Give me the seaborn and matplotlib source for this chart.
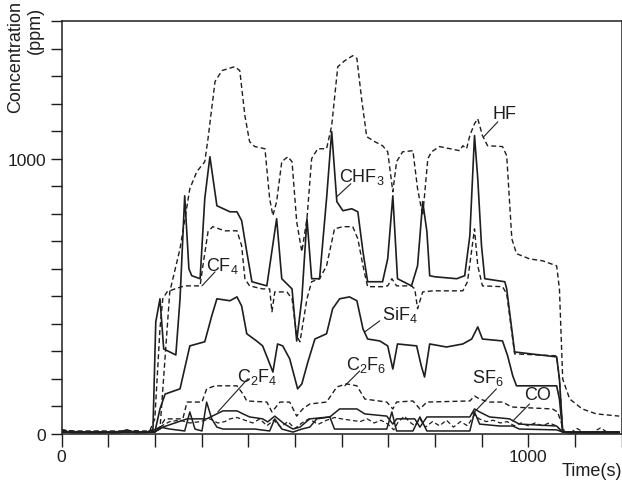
import matplotlib
matplotlib.use("Agg")
import matplotlib.pyplot as plt
import seaborn as sns
import numpy as np

# ---------------- data (time in s, concentration in ppm) ----------------
HF_t = [0, 20, 40, 60, 80, 100, 120, 140, 160, 180, 200, 211, 232, 254, 275, 290, 307, 314, 329, 344,
        371, 382, 393, 403, 414, 436, 446, 453, 461, 472, 485, 494, 504, 515, 526, 536, 549, 568, 579, 592,
        607, 624, 633, 643, 654, 671, 688, 699, 710, 718, 731, 753, 763, 774, 785, 793, 810, 853, 860, 868,
        875, 885, 892, 902, 913, 945, 954, 965, 975, 1003, 1031, 1061, 1067, 1074, 1089, 1116, 1146, 1195]
HF_v = [15, 10, 8, 5, 10, 6, 4, 8, 12, 5, 10, 18, 516, 673, 891, 953, 989, 1073, 1280, 1320,
        1334, 1320, 1156, 1062, 1044, 1036, 855, 793, 844, 989, 1007, 989, 771, 662, 782, 1000, 1036, 1036, 1120, 1334,
        1356, 1374, 1364, 1218, 1080, 1062, 1047, 1025, 880, 989, 1025, 1029, 891, 793, 1000, 1025, 1044, 1029, 1047, 1036,
        1084, 1127, 1145, 1084, 1047, 1044, 1011, 709, 655, 636, 629, 611, 527, 200, 127, 91, 73, 65]

CHF3_t = [0, 189, 196, 202, 211, 219, 232, 245, 254, 264, 273, 279, 297, 307, 318, 333, 361, 376, 386, 397,
          408, 440, 461, 472, 494, 504, 515, 526, 536, 553, 568, 579, 590, 603, 622, 635, 646, 656, 688, 699,
          710, 720, 750, 763, 774, 783, 789, 800, 847, 864, 875, 885, 892, 900, 907, 950, 954, 971, 1061, 1067,
          1074, 1089, 1195]
CHF3_v = [7, 7, 18, 407, 491, 309, 298, 287, 491, 865, 600, 575, 564, 855, 1007, 829, 807, 807, 775, 662,
          553, 538, 782, 564, 527, 338, 491, 782, 564, 564, 855, 1098, 844, 811, 818, 807, 662, 553, 553, 636,
          865, 564, 538, 611, 844, 735, 575, 571, 564, 575, 720, 1084, 927, 684, 564, 553, 527, 298, 280, 200,
          7, 4, 4]

CF4_t = [0, 189, 200, 211, 217, 226, 243, 264, 297, 303, 314, 324, 350, 376, 386, 393, 403, 431, 446, 451,
         457, 483, 494, 504, 511, 519, 526, 536, 553, 568, 585, 603, 624, 635, 646, 656, 688, 699, 708, 718,
         750, 757, 763, 774, 796, 860, 870, 885, 892, 902, 945, 954, 971, 1061, 1067, 1074, 1099, 1195]
CF4_v = [11, 11, 55, 382, 491, 516, 527, 538, 538, 611, 735, 753, 738, 738, 684, 564, 538, 527, 527, 444,
         516, 516, 491, 356, 335, 418, 491, 553, 564, 611, 745, 753, 753, 709, 611, 535, 535, 538, 564, 538,
         538, 527, 455, 516, 520, 520, 553, 745, 611, 538, 535, 509, 291, 284, 200, 7, 7, 7]

SiF4_t = [0, 20, 120, 140, 160, 200, 211, 222, 254, 275, 307, 322, 333, 361, 376, 386, 397, 418, 431, 442,
          453, 463, 474, 489, 506, 515, 528, 543, 568, 581, 596, 617, 633, 646, 656, 682, 699, 710, 720, 761,
          771, 778, 789, 825, 860, 879, 892, 902, 945, 956, 967, 975, 1061, 1067, 1074, 1195]
SiF4_v = [15, 5, 5, 15, 5, 7, 91, 145, 164, 320, 335, 429, 491, 484, 498, 465, 364, 338, 320, 273,
          225, 327, 320, 273, 164, 182, 262, 345, 364, 455, 491, 498, 484, 382, 345, 338, 320, 236, 327, 320,
          247, 207, 327, 316, 327, 345, 389, 345, 338, 284, 211, 175, 175, 127, 7, 7]

C2F6_t = [0, 200, 211, 222, 260, 269, 301, 311, 329, 376, 389, 397, 440, 451, 468, 489, 504, 517, 532, 568,
          590, 611, 633, 650, 697, 710, 718, 753, 768, 783, 875, 885, 896, 917, 945, 965, 1052, 1063, 1078, 1195]
C2F6_v = [7, 7, 25, 55, 55, 116, 116, 164, 175, 175, 145, 120, 116, 80, 116, 116, 65, 91, 109, 116,
          171, 182, 175, 127, 116, 91, 116, 120, 91, 116, 120, 138, 127, 116, 116, 98, 91, 80, 7, 7]

C2F4_t = [0, 200, 217, 269, 311, 346, 376, 389, 403, 431, 442, 457, 478, 496, 511, 532, 575, 596, 633, 650,
          697, 710, 718, 757, 768, 783, 875, 885, 896, 917, 960, 981, 1061, 1074, 1195]
C2F4_v = [7, 7, 25, 55, 55, 84, 84, 73, 62, 55, 44, 65, 36, 18, 25, 55, 62, 91, 91, 73,
          65, 36, 55, 55, 25, 62, 62, 91, 80, 62, 55, 36, 29, 7, 7]

CO_t = [0, 189, 211, 232, 264, 275, 286, 301, 311, 322, 333, 346, 414, 446, 457, 472, 496, 515, 532, 547,
        575, 585, 633, 697, 708, 718, 753, 768, 783, 875, 885, 896, 939, 967, 981, 1061, 1074, 1195]
CO_v = [7, 7, 25, 18, 11, 80, 18, 11, 116, 55, 25, 18, 18, 11, 55, 18, 7, 18, 25, 55,
        62, 18, 18, 18, 80, 11, 11, 62, 11, 11, 80, 36, 29, 29, 18, 15, 7, 7]

SF6_t = [0, 40, 80, 120, 160, 190, 200, 215, 232, 254, 275, 297, 318, 335, 350, 361, 376, 393, 410, 425,
         440, 455, 470, 485, 500, 515, 530, 550, 568, 585, 600, 620, 640, 655, 670, 685, 700, 712, 722, 735,
         745, 757, 768, 780, 795, 810, 825, 840, 855, 870, 885, 895, 910, 925, 940, 955, 970, 985, 1000, 1015,
         1030, 1045, 1060, 1074, 1090, 1105, 1120, 1140, 1155, 1170, 1195]
SF6_v = [15, 8, 4, 10, 5, 12, 7, 30, 45, 50, 40, 45, 55, 40, 45, 55, 60, 50, 40, 55,
         30, 50, 25, 45, 20, 40, 55, 35, 50, 60, 55, 50, 45, 55, 40, 50, 35, 15, 45, 65,
         45, 30, 55, 25, 45, 30, 50, 25, 45, 30, 70, 55, 45, 50, 40, 45, 30, 40, 30, 40,
         30, 40, 30, 7, 5, 20, 5, 8, 22, 6, 8]

# label text, label centre (t, ppm), leader start, leader end
label_names = ["HF", "CHF$_3$", "CF$_4$", "SiF$_4$", "C$_2$F$_6$", "C$_2$F$_4$", "SF$_6$", "CO"]
label_pos = [(950, 1164), (643, 938), (344, 614), (725, 436), (652, 255), (419, 211), (913, 207), (1020, 142)]
leader_from = [(935, 1134), (620, 909), (329, 589), (682, 411), (639, 229), (399, 200), (932, 164), (1003, 109)]
leader_to = [(905, 1080), (590, 862), (301, 538), (650, 371), (607, 175), (335, 80), (881, 73), (967, 47)]

x_ticks = list(range(0, 1201, 100))
x_ticklabels = ["0" if v == 0 else ("1000" if v == 1000 else "") for v in x_ticks]
y_ticks = list(range(0, 1501, 100))
y_ticklabels = ["0" if v == 0 else ("1000" if v == 1000 else "") for v in y_ticks]

# ---------------- style ----------------
sns.set_style("ticks")
plt.rcParams["font.family"] = ["Liberation Sans", "DejaVu Sans"]
plt.rcParams["mathtext.default"] = "regular"
ink = "#1e1e1e"

fig = plt.figure(figsize=(6.22, 4.81), dpi=100)
ax = fig.add_axes([61.5 / 622, (481 - 435) / 481, (621.5 - 61.5) / 622, (435 - 22) / 481])

dash = (0, (3.6, 2.2))
series = [
    (HF_t, HF_v, dash, 1.0),
    (CHF3_t, CHF3_v, "-", 1.2),
    (CF4_t, CF4_v, dash, 1.0),
    (SiF4_t, SiF4_v, "-", 1.2),
    (C2F6_t, C2F6_v, dash, 1.0),
    (C2F4_t, C2F4_v, "-", 1.1),
    (CO_t, CO_v, "-", 1.1),
    (SF6_t, SF6_v, dash, 0.9),
]
for t, v, ls, lw in series:
    sns.lineplot(x=np.array(t), y=np.array(v), ax=ax, color=ink, linewidth=lw,
                 linestyle=ls, estimator=None, sort=False)

for name, pos, a, b in zip(label_names, label_pos, leader_from, leader_to):
    ax.text(pos[0], pos[1], name, fontsize=13, color=ink, ha="center", va="center")
    ax.annotate("", xy=b, xytext=a,
                arrowprops=dict(arrowstyle="-", lw=0.8, color=ink, shrinkA=0, shrinkB=0))

ax.set_xlim(0, 1200)
ax.set_ylim(0, 1500)
ax.set_xticks(x_ticks)
ax.set_xticklabels(x_ticklabels)
ax.set_yticks(y_ticks)
ax.set_yticklabels(y_ticklabels)
ax.tick_params(axis="x", direction="out", length=9, width=1.0, pad=2, labelsize=12.5, colors=ink)
ax.tick_params(axis="y", direction="out", length=8, width=1.0, pad=3, labelsize=12.5, colors=ink)
ax.set_xlabel("")
ax.set_ylabel("")
for s in ax.spines.values():
    s.set_visible(True)
    s.set_color(ink)
    s.set_linewidth(1.1)

fig.text(16 / 622, 1 - 57 / 481, "Concentration", rotation=90, fontsize=13,
         ha="center", va="center", color=ink)
fig.text(35 / 622, 1 - 30 / 481, "(ppm)", rotation=90, fontsize=13,
         ha="center", va="center", color=ink)
fig.text(1.0, 1 - 472 / 481, "Time(s)", fontsize=13, ha="right", va="center", color=ink)

fig.savefig("out.png", dpi=100)
